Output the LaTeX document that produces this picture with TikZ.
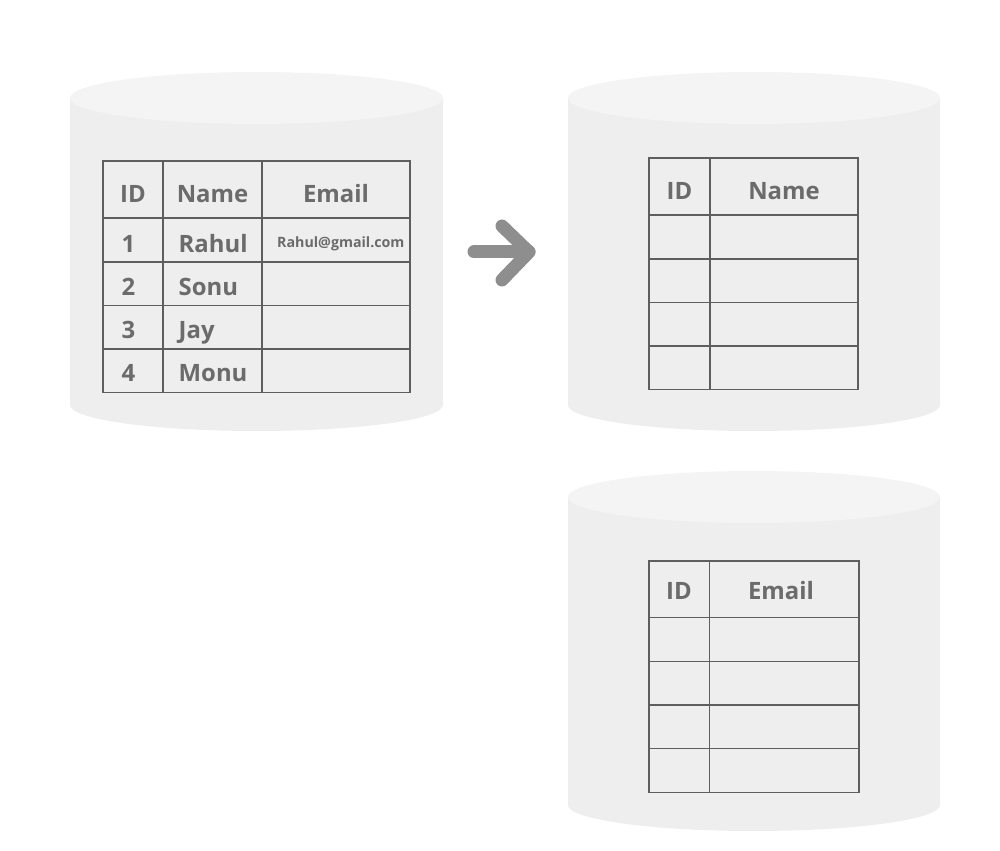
\documentclass[tikz,border=0pt]{standalone}
\usepackage{fontspec}
\setmainfont{Open Sans}
\definecolor{cylbodygray}{HTML}{EEEEEE}
\definecolor{cyltopgray}{HTML}{F4F4F4}
\definecolor{gridgray}{HTML}{5E5E5E}
\definecolor{textgray}{HTML}{6B6B6B}
\definecolor{arrowgray}{HTML}{8E8E8E}
\tikzset{
  cylbody/.style={fill=cylbodygray,draw=none},
  cyltop/.style={fill=cyltopgray,draw=none},
  tblline/.style={draw=gridgray,line width=0.4pt},
  hdr/.style={inner sep=0,anchor=base,text=textgray,font=\fontsize{6.8}{8}\selectfont\bfseries},
  cell/.style={inner sep=0,anchor=base west,text=textgray,font=\fontsize{6.8}{8}\selectfont\bfseries},
  smallcell/.style={inner sep=0,anchor=base west,text=textgray,font=\fontsize{4.05}{5}\selectfont\bfseries}
}
\begin{document}
\begin{tikzpicture}[x=0.1mm,y=-0.1mm]
    \useasboundingbox[fill=white] (0,0) rectangle (1000,851);

    % source database
    \fill[cylbody] (70,98) rectangle (443,405);
    \fill[cylbody] (256.5,405) ellipse [x radius=186.5,y radius=26];
    \fill[cyltop]  (256.5,98) ellipse [x radius=186.5,y radius=26];

    \draw[tblline] (103,161) rectangle (410,392.5);
    \draw[tblline] (163,161) -- (163,392.5);
    \draw[tblline] (262,161) -- (262,392.5);
    \draw[tblline] (103,218) -- (410,218);
    \draw[tblline] (103,262) -- (410,262);
    \draw[tblline] (103,305.5) -- (410,305.5);
    \draw[tblline] (103,349) -- (410,349);

    \node (srcid)    at (133,202.5) [hdr] {ID};
    \node (srcname)  at (212.5,202.5) [hdr] {Name};
    \node (srcemail) at (336,202.5) [hdr] {Email};
    \node (id1) at (121,252.5) [cell] {1};
    \node (id2) at (121,296) [cell] {2};
    \node (id3) at (121,339) [cell] {3};
    \node (id4) at (121,382) [cell] {4};
    \node (name1) at (178,252.5) [cell] {Rahul};
    \node (name2) at (178,296) [cell] {Sonu};
    \node (name3) at (178,339) [cell] {Jay};
    \node (name4) at (178,382) [cell] {Monu};
    \node (email1) at (276.5,247.5) [smallcell] {Rahul@gmail.com};

    % name database
    \fill[cylbody] (568,98) rectangle (940,405);
    \fill[cylbody] (754,405) ellipse [x radius=186,y radius=26];
    \fill[cyltop]  (754,98) ellipse [x radius=186,y radius=26];

    \draw[tblline] (649,158) rectangle (858,389.5);
    \draw[tblline] (710,158) -- (710,389.5);
    \draw[tblline] (649,215) -- (858,215);
    \draw[tblline] (649,259) -- (858,259);
    \draw[tblline] (649,302.5) -- (858,302.5);
    \draw[tblline] (649,346) -- (858,346);

    \node (nameid)   at (679.5,200) [hdr] {ID};
    \node (namename) at (784,200) [hdr] {Name};

    % email database
    \fill[cylbody] (568,497) rectangle (940,805);
    \fill[cylbody] (754,805) ellipse [x radius=186,y radius=26];
    \fill[cyltop]  (754,497) ellipse [x radius=186,y radius=26];

    \draw[tblline] (649,561) rectangle (859,792.5);
    \draw[tblline] (709.5,561) -- (709.5,792.5);
    \draw[tblline] (649,617.5) -- (859,617.5);
    \draw[tblline] (649,661.5) -- (859,661.5);
    \draw[tblline] (649,705) -- (859,705);
    \draw[tblline] (649,748.5) -- (859,748.5);

    \node (emailid)    at (679,599.5) [hdr] {ID};
    \node (emailemail) at (781,599.5) [hdr] {Email};

    % split arrow
    \coordinate (arrtail) at (474,252);
    \coordinate (arrtip)  at (529,252);
    \coordinate (arrup)   at (502,226);
    \coordinate (arrdown) at (502,280);
    \draw[arrowgray,line width=1.3mm,line cap=round] (arrtail) to (arrtip);
    \draw[arrowgray,line width=1.3mm,line cap=round,line join=round] (arrup) -- (arrtip) -- (arrdown);

\end{tikzpicture}
\end{document}
